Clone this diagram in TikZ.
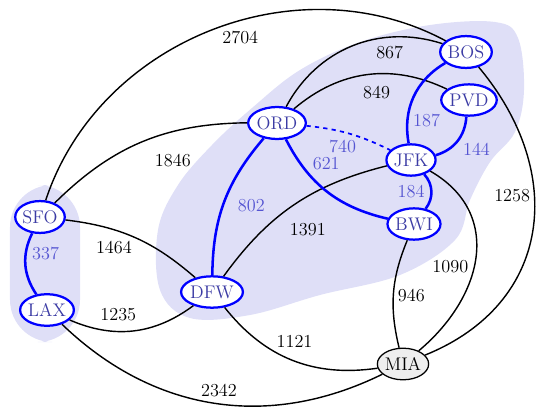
\documentclass[tikz,border=0pt]{standalone}
\usepackage{xcolor}
\usepackage{tikz}
\usetikzlibrary{shapes.geometric, arrows.meta, positioning, calc}
\definecolor{treeblue}{RGB}{0,0,255}
\definecolor{treetext}{RGB}{60,60,165}
\definecolor{treelabel}{RGB}{85,85,210}
\definecolor{regionfill}{RGB}{223,223,247}
\definecolor{miafill}{RGB}{238,238,238}
\tikzset{
  city/.style={ellipse, draw=treeblue, line width=1.6pt, fill=white, text=treetext,
    font=\fontsize{13}{15}\selectfont, inner xsep=0pt, inner ysep=3.3pt},
  plaincity/.style={city, draw=black, line width=0.9pt, fill=miafill, text=black},
  road/.style={draw=black, line width=1pt},
  tree/.style={draw=treeblue, line width=1.8pt},
  maybe/.style={draw=treeblue, line width=1.2pt, dashed},
  dist/.style={font=\fontsize{13}{15}\selectfont, inner sep=2pt, text=black, auto},
  tdist/.style={dist, text=treelabel},
}

\begin{document}
\begin{tikzpicture}[x=0.025cm, y=0.025cm]
\useasboundingbox (0,0) rectangle (542,-414);

\fill[regionfill, rounded corners=30pt] (10,-185) rectangle (80,-342);
\fill[regionfill] plot[smooth cycle, tension=0.6] coordinates {
  (160,-290) (158,-230) (178,-185) (212,-145) (252,-108) (300,-70) (360,-42)
  (430,-25) (495,-22) (518,-38) (524,-90) (515,-132) (490,-162) (470,-200)
  (455,-240) (400,-275) (320,-295) (250,-315) (190,-318)};

\node[city] (SFO) at (40,-217) {SFO};
\node[city] (LAX) at (47,-310) {LAX};
\node[city] (DFW) at (212,-292) {DFW};
\node[city] (ORD) at (277,-123) {ORD};
\node[city] (JFK) at (411,-160) {JFK};
\node[city] (BWI) at (414,-224) {BWI};
\node[city] (BOS) at (466,-52) {BOS};
\node[city] (PVD) at (469,-100) {PVD};
\node[plaincity] (MIA) at (403,-364) {MIA};

\draw[road] (SFO) to[bend left=50] node[dist, pos=0.52, swap] {2704} (BOS);
\draw[road] (SFO) to[bend left=22] node[dist, pos=0.55, swap, yshift=-9pt] {1846} (ORD);
\draw[road] (SFO) to[bend left=17] node[dist, pos=0.5, swap] {1464} (DFW);
\draw[tree] (SFO) to[bend right=30] node[tdist, xshift=2pt] {337} (LAX);
\draw[road] (LAX) to[bend right=30] node[dist, pos=0.55, yshift=4pt] {1235} (DFW);
\draw[road] (LAX) to[bend right=35] node[dist, pos=0.45] {2342} (MIA);
\draw[tree] (DFW) to[bend left=20] node[tdist, pos=0.55, swap, xshift=5pt] {802} (ORD);
\draw[road] (DFW) to[bend left=20] node[dist, pos=0.45, swap, yshift=-7pt] {1391} (JFK);
\draw[road] (DFW) to[bend right=30] node[dist, pos=0.37] {1121} (MIA);
\draw[road] (ORD) to[bend left=40] node[dist, pos=0.62, swap, yshift=-2pt] {867} (BOS);
\draw[road] (ORD) to[bend left=33] node[dist, pos=0.45, swap, yshift=-5pt] {849} (PVD);
\draw[maybe] (ORD) to[bend left=10] node[tdist, pos=0.63, swap] {740} (JFK);
\draw[tree] (ORD) to[bend right=25] node[tdist, pos=0.3] {621} (BWI);
\draw[tree] (BOS) to[bend right=35] node[tdist, pos=0.65] {187} (JFK);
\draw[tree] (PVD) to[bend left=35] node[tdist, pos=0.45] {144} (JFK);
\draw[tree] (JFK) to[bend left=40] node[tdist, swap, xshift=-2pt] {184} (BWI);
\draw[road] (JFK) to[out=-30, in=40, looseness=1.2] node[dist, pos=0.6, swap] {1090} (MIA);
\draw[road] (BWI) to[bend right=18] node[dist, pos=0.42] {946} (MIA);
\draw[road] (BOS) to[out=-50, in=22, looseness=1.2] node[dist, pos=0.36, swap] {1258} (MIA);
\end{tikzpicture}
\end{document}
